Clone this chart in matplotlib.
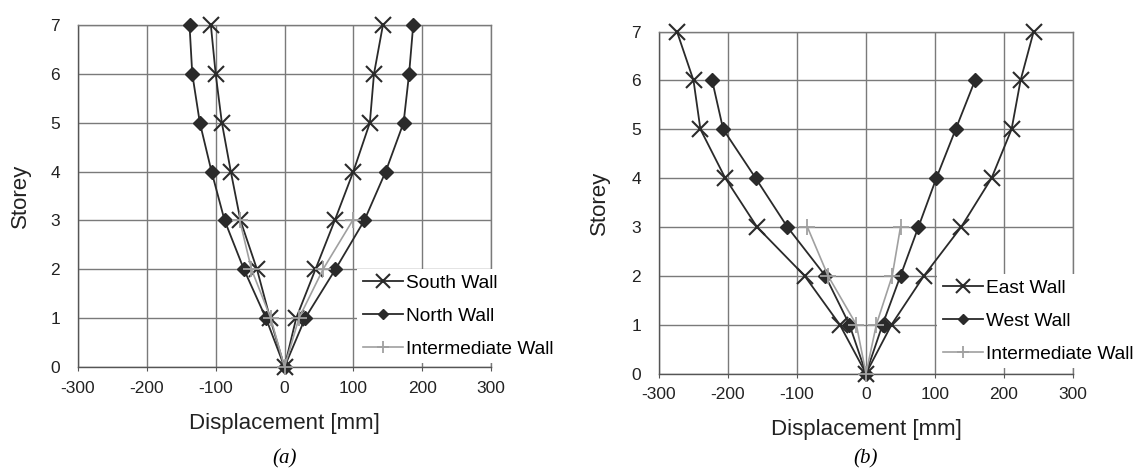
import matplotlib
matplotlib.use("Agg")
import matplotlib.pyplot as plt

plt.rcParams['font.family'] = ['Liberation Sans', 'DejaVu Sans']
plt.rcParams['axes.unicode_minus'] = False

# ---------------- data ----------------
storeys = [0, 1, 2, 3, 4, 5, 6, 7]
x_ticks = [-300, -200, -100, 0, 100, 200, 300]
y_ticks = [0, 1, 2, 3, 4, 5, 6, 7]

# panel (a)
south_pos = [0, 17, 45, 73, 100, 124, 130, 143]
south_neg = [0, -21, -40, -64, -78, -91, -100, -107]
north_pos = [0, 30, 74, 116, 147, 173, 181, 187]
north_neg = [0, -27, -59, -87, -106, -123, -134, -138]
inter_a_storeys = [0, 1, 2, 3]
inter_a_pos = [0, 21, 56, 99]
inter_a_neg = [0, -20, -48, -65]

# panel (b)
east_pos = [0, 37, 84, 138, 182, 211, 224, 243]
east_neg = [0, -38, -89, -158, -204, -240, -250, -274]
west_storeys = [0, 1, 2, 3, 4, 5, 6]
west_pos = [0, 24, 50, 76, 102, 130, 158]
west_neg = [0, -24, -59, -114, -160, -207, -223]
inter_b_storeys = [0, 1, 2, 3]
inter_b_pos = [0, 15, 38, 50]
inter_b_neg = [0, -14, -55, -85]

labels_a = ["South Wall", "North Wall", "Intermediate Wall"]
labels_b = ["East Wall", "West Wall", "Intermediate Wall"]


def envelope(st, neg, pos):
    xs = list(neg[::-1]) + list(pos[1:])
    ys = list(st[::-1]) + list(st[1:])
    return xs, ys


W, H = 1141, 471
fig = plt.figure(figsize=(W / 100, H / 100), dpi=100)

DARK = '#2a2a2a'
LIGHT = '#a0a0a0'
GRID = '#7a7a7a'


def setup(ax):
    ax.set_xlim(-300, 300)
    ax.set_ylim(0, 7)
    ax.set_xticks(x_ticks)
    ax.set_yticks(y_ticks)
    ax.grid(True, color=GRID, linewidth=1.0)
    ax.set_axisbelow(True)
    for s in ax.spines.values():
        s.set_color(GRID)
        s.set_linewidth(1.0)
    ax.spines['left'].set_color('#555555')
    ax.spines['bottom'].set_color('#555555')
    ax.tick_params(axis='x', length=3, pad=7, labelsize=12.5, color='#555555', labelcolor='#222222')
    ax.tick_params(axis='y', length=0, pad=13, labelsize=12.5, labelcolor='#222222')


def draw(ax, series, labels, legend_anchor):
    handles = []
    styles = [
        dict(color=DARK, marker='x', markersize=12, markeredgewidth=1.5, linewidth=1.3),
        dict(color=DARK, marker='D', markersize=7, linewidth=1.3),
        dict(color=LIGHT, marker='+', markersize=11, markeredgewidth=1.3, linewidth=1.2),
    ]
    for (st, neg, pos), lab, sty in zip(series, labels, styles):
        xs, ys = envelope(st, neg, pos)
        h, = ax.plot(xs, ys, label=lab, clip_on=False, zorder=3, **sty)
        handles.append(h)
    leg = ax.legend(handles=handles, loc='upper left', bbox_to_anchor=legend_anchor,
                    frameon=True, facecolor='white', edgecolor='none', framealpha=1,
                    fontsize=13.8, handlelength=2.1, handletextpad=0.15,
                    labelspacing=0.8, borderpad=0.3, borderaxespad=0, fancybox=False,
                    markerscale=0.8)
    leg.set_zorder(5)
    return leg


def add_axes(l, r, b, t):
    return fig.add_axes([l / W, 1 - b / H, (r - l) / W, (b - t) / H])


ax_a = add_axes(78, 491, 367, 25)
ax_b = add_axes(659, 1073, 373.5, 31.5)
setup(ax_a)
setup(ax_b)

draw(ax_a, [(storeys, south_neg, south_pos),
            (storeys, north_neg, north_pos),
            (inter_a_storeys, inter_a_neg, inter_a_pos)],
     labels_a, ((357 - 78) / (491 - 78), (367 - 269) / (367 - 25)))
draw(ax_b, [(storeys, east_neg, east_pos),
            (west_storeys, west_neg, west_pos),
            (inter_b_storeys, inter_b_neg, inter_b_pos)],
     labels_b, ((937 - 659) / (1073 - 659), (373.5 - 274) / (373.5 - 31.5)))

# axis labels
for cx, cy_lab, sx, sy in [(284.5, 423, 20, 196), (866, 429, 599, 203)]:
    fig.text(cx / W, 1 - cy_lab / H, "Displacement [mm]", ha='center', va='center', fontsize=16, color='#222222')
    fig.text(sx / W, 1 - sy / H, "Storey", ha='center', va='center', rotation=90, fontsize=16, color='#222222')

# captions
fig.text(285 / W, 1 - 459 / H, "(a)", ha='center', va='center', fontsize=15,
         family=['Liberation Serif', 'DejaVu Serif'], style='italic')
fig.text(866 / W, 1 - 459 / H, "(b)", ha='center', va='center', fontsize=15,
         family=['Liberation Serif', 'DejaVu Serif'], style='italic')

fig.savefig("out.png", dpi=100, facecolor='white')
